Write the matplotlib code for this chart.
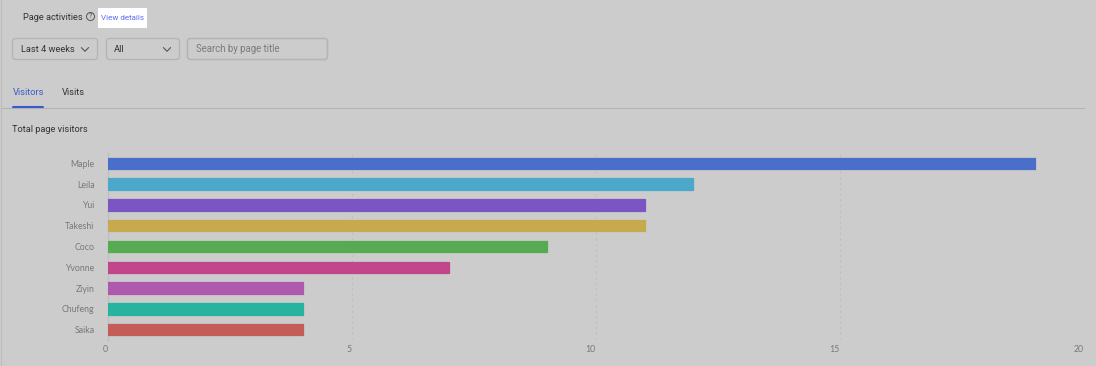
import matplotlib
matplotlib.use('Agg')
import matplotlib.pyplot as plt
from matplotlib.patches import FancyBboxPatch, Rectangle, Circle

names = ['Maple', 'Leila', 'Yui', 'Takeshi', 'Coco', 'Yvonne', 'Ziyin', 'Chufeng', 'Saika']
visitors = [19, 12, 11, 11, 9, 7, 4, 4, 4]
colors = ['#4a6fcb', '#4ba8cb', '#7b55c4', '#c8aa4e', '#55aa52', '#c2468b', '#ae59ae', '#27b49e', '#c45c57']
x_ticks = [0, 5, 10, 15, 20]

W, H = 1096, 366
BG = '#cccccc'
plt.rcParams['font.family'] = ['Roboto', 'DejaVu Sans']

fig = plt.figure(figsize=(W / 100, H / 100), dpi=100, facecolor=BG)

# page furniture, in pixel coordinates
ui = fig.add_axes([0, 0, 1, 1])
ui.set_xlim(0, W)
ui.set_ylim(H, 0)
ui.set_axis_off()


def box(x, y, w, h, fc='none', ec='#b4b4b4', r=3, lw=0.9):
    ui.add_patch(FancyBboxPatch((x + r, y + r), w - 2 * r, h - 2 * r,
                                boxstyle='round,pad=%g,rounding_size=%g' % (r, r),
                                fc=fc, ec=ec, lw=lw))


def chevron(x, y):
    ui.plot([x - 3.5, x, x + 3.5], [y - 1.8, y + 1.8, y - 1.8], color='#555555', lw=0.8)


ui.text(23, 17.5, 'Page activities', fontsize=6.7, color='#333333', va='center')
ui.add_patch(Circle((90.5, 16.5), 4, fc='none', ec='#555555', lw=0.7))
ui.text(90.5, 16.5, '?', fontsize=5, color='#555555', ha='center', va='center')
ui.add_patch(Rectangle((98, 8), 49, 20, fc='white', ec='none'))
ui.text(101, 17.5, 'View details', fontsize=5.8, color='#5a6cf0', va='center')

box(12.5, 38.5, 85, 21)
box(106.5, 38.5, 73, 21)
box(187.5, 38.5, 140, 21, lw=1.1)
ui.text(21, 49.5, 'Last 4 weeks', fontsize=6.7, color='#333333', va='center')
chevron(85, 49.5)
ui.text(114, 49.5, 'All', fontsize=6.7, color='#333333', va='center')
chevron(167, 49.5)
ui.text(195.5, 49.5, 'Search by page title', fontsize=6.9, color='#7a7a7a', va='center')

ui.text(12.5, 92.5, 'Visitors', fontsize=6.7, color='#3f5bc4', va='center')
ui.text(62, 92.5, 'Visits', fontsize=6.7, color='#333333', va='center')
ui.plot([1, 1084], [107.5, 107.5], color='#b4b4b4', lw=0.8)
ui.plot([13, 43], [107, 107], color='#3a5bd0', lw=1.5, solid_capstyle='round')
ui.text(12.5, 129.5, 'Total page visitors', fontsize=6.7, color='#333333', va='center')
ui.plot([0.5, 0.5], [0, H], color='#bcbcbc', lw=0.8)

# chart, placed so that 0 and 20 land on the reference pixels
ax = fig.add_axes([107.5 / W, 1 - 340 / H, (1084 - 107.5) / W, (340 - 153) / H], facecolor='none')
ax.barh(range(len(names)), visitors, height=0.55, color=colors, edgecolor=colors,
        linewidth=0.9, joinstyle='round', zorder=3)
ax.set_xlim(0, 20)
ax.set_ylim(len(names) - 0.5, -0.5)
ax.set_yticks(range(len(names)), names)
ax.set_xticks(x_ticks)
ax.grid(axis='x', color='#bfbfbf', lw=0.8, ls=(0, (2, 3)), zorder=0)
for side in ['top', 'right', 'bottom']:
    ax.spines[side].set_visible(False)
ax.spines['left'].set_color('#bfbfbf')
ax.spines['left'].set_linewidth(1)
ax.tick_params(axis='both', length=0, labelsize=6.3, labelcolor='#77777f')
ax.tick_params(axis='y', pad=9.4)
ax.tick_params(axis='x', pad=3.4)
for lab in ax.get_yticklabels() + ax.get_xticklabels():
    lab.set_family(['Lato', 'DejaVu Sans'])
# tick numbers sit left of their gridline in the reference
for lab in ax.get_xticklabels():
    lab.set_ha('right')

fig.savefig('out.png', dpi=100, facecolor=BG)
